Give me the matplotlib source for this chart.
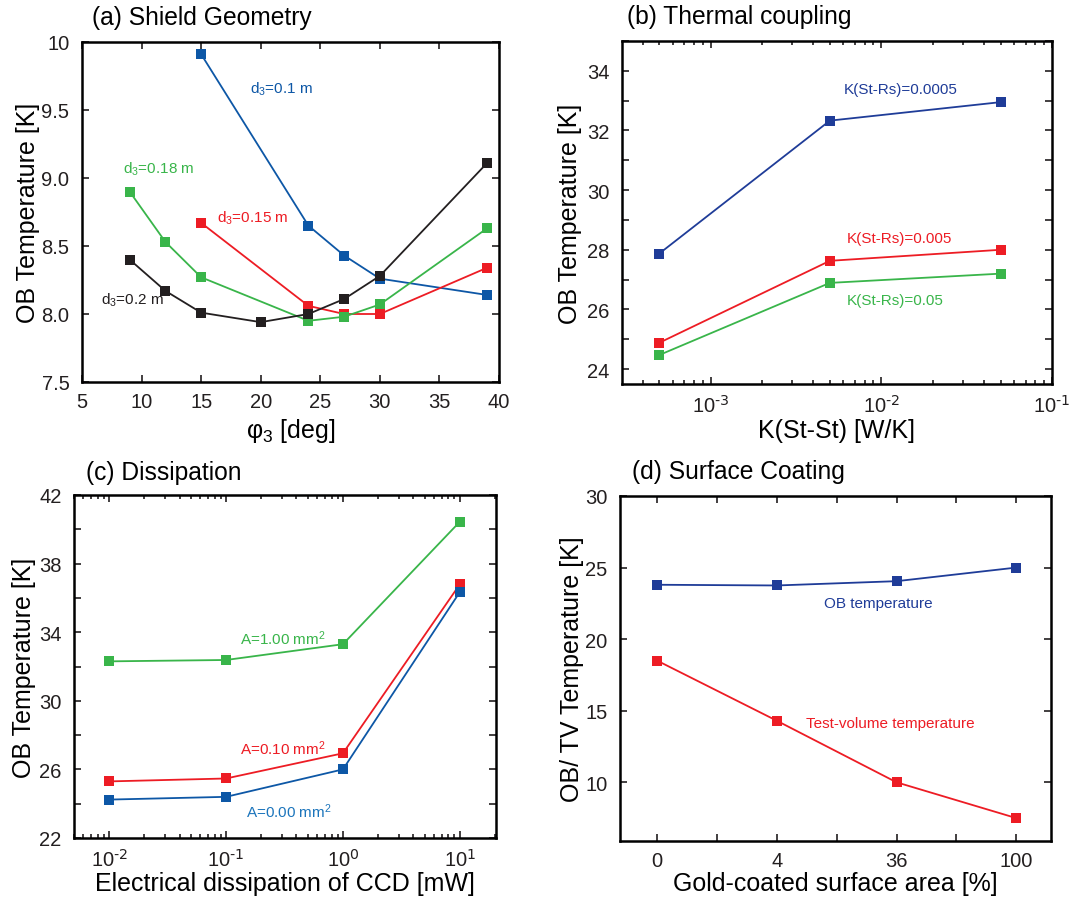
import math
import matplotlib
matplotlib.use("Agg")
import matplotlib.pyplot as plt
from matplotlib.ticker import MultipleLocator, FixedLocator, FixedFormatter, FuncFormatter

plt.rcParams['font.family'] = ['Liberation Sans', 'DejaVu Sans']
plt.rcParams['mathtext.default'] = 'regular'
plt.rcParams['axes.unicode_minus'] = False

# ---- data ----
# (a) shield geometry
phi_d01 = [15, 24, 27, 30, 39]
T_d01 = [9.91, 8.65, 8.43, 8.26, 8.14]
phi_d015 = [15, 24, 27, 30, 39]
T_d015 = [8.67, 8.06, 8.00, 8.00, 8.34]
phi_d018 = [9, 12, 15, 24, 27, 30, 39]
T_d018 = [8.90, 8.53, 8.27, 7.95, 7.98, 8.07, 8.63]
phi_d02 = [9, 12, 15, 20, 24, 27, 30, 39]
T_d02 = [8.40, 8.17, 8.01, 7.94, 8.00, 8.11, 8.28, 9.11]

# (b) thermal coupling
K_stst = [5e-4, 5e-3, 5e-2]
T_rs0005 = [27.87, 32.33, 32.95]
T_rs005 = [24.88, 27.63, 28.00]
T_rs05 = [24.47, 26.89, 27.20]

# (c) dissipation
P_ccd = [0.01, 0.1, 1, 10]
T_a100 = [32.30, 32.38, 33.30, 40.44]
T_a010 = [25.30, 25.47, 26.94, 36.79]
T_a000 = [24.24, 24.40, 26.00, 36.34]

# (d) surface coating
coat_labels = ['0', '4', '36', '100']
T_ob = [23.80, 23.75, 24.05, 25.00]
T_tv = [18.50, 14.30, 10.00, 7.50]

blue = '#0d57a6'
navy = '#1f3c98'
red = '#ed1c24'
green = '#39b54a'
black = '#231f20'
lblue = '#1c75bc'

W, H = 1069, 903
LABEL_FS = 18
TITLE_FS = 17.7


def px(x, y):
    return x / W, 1 - y / H


def box(l, t, r, b):
    return [l / W, 1 - b / H, (r - l) / W, (b - t) / H]


def decade(v, pos):
    # 10^n with a plain hyphen, like the original figure
    return '10$^{\\text{%d}}$' % int(round(math.log10(v)))


def style(ax):
    for s in ax.spines.values():
        s.set_linewidth(1.8)
    ax.tick_params(which='both', direction='in', top=True, right=True,
                   width=1.2, labelsize=14.5, colors='#231f20')
    ax.tick_params(which='major', length=5)
    ax.tick_params(which='minor', length=3)
    ax.tick_params(axis='y', pad=9)
    ax.tick_params(axis='x', pad=7)


def line(ax, x, y, c):
    ax.plot(x, y, '-s', color=c, lw=1.3, ms=6.5, mew=0)


fig = plt.figure(figsize=(W / 100, H / 100), dpi=100)

# ---- (a) ----
ax = fig.add_axes(box(82, 43, 499, 383))
line(ax, phi_d01, T_d01, blue)
line(ax, phi_d015, T_d015, red)
line(ax, phi_d018, T_d018, green)
line(ax, phi_d02, T_d02, black)
ax.set_xlim(5, 40)
ax.set_ylim(7.5, 10)
ax.xaxis.set_major_locator(MultipleLocator(5))
ax.yaxis.set_major_locator(FixedLocator([7.5, 8.0, 8.5, 9.0, 9.5, 10]))
ax.yaxis.set_major_formatter(FixedFormatter(['7.5', '8.0', '8.5', '9.0', '9.5', '10']))
style(ax)
ax.set_xlabel('φ$_3$ [deg]', fontsize=LABEL_FS, labelpad=4)
ax.set_ylabel('OB Temperature [K]', fontsize=LABEL_FS, labelpad=1)
ax.text(19.1, 9.66, 'd$_3$=0.1 m', color=blue, fontsize=11, va='center')
ax.text(8.4, 9.07, 'd$_3$=0.18 m', color=green, fontsize=11, va='center')
ax.text(16.3, 8.71, 'd$_3$=0.15 m', color=red, fontsize=11, va='center')
ax.text(6.6, 8.11, 'd$_3$=0.2 m', color=black, fontsize=11, va='center')
fig.text(*px(92, 18), '(a) Shield Geometry', fontsize=TITLE_FS, va='center')

# ---- (b) ----
ax = fig.add_axes(box(622, 42, 1052, 385))
line(ax, K_stst, T_rs0005, navy)
line(ax, K_stst, T_rs005, red)
line(ax, K_stst, T_rs05, green)
ax.set_xscale('log')
ax.set_xlim(3.03e-4, 1e-1)
ax.set_ylim(23.5, 35)
ax.xaxis.set_major_formatter(FuncFormatter(decade))
ax.yaxis.set_major_locator(MultipleLocator(2))
ax.yaxis.set_minor_locator(MultipleLocator(1))
style(ax)
ax.tick_params(axis='y', which='minor', length=5)
ax.set_xlabel('K(St-St) [W/K]', fontsize=LABEL_FS, labelpad=2)
ax.set_ylabel('OB Temperature [K]', fontsize=LABEL_FS, labelpad=3.5)
ax.text(6.0e-3, 33.4, 'K(St-Rs)=0.0005', color=navy, fontsize=11, va='center')
ax.text(6.3e-3, 28.38, 'K(St-Rs)=0.005', color=red, fontsize=11, va='center')
ax.text(6.3e-3, 26.32, 'K(St-Rs)=0.05', color=green, fontsize=11, va='center')
fig.text(*px(627, 17), '(b) Thermal coupling', fontsize=TITLE_FS, va='center')

# ---- (c) ----
ax = fig.add_axes(box(74, 496, 496, 839))
line(ax, P_ccd, T_a100, green)
line(ax, P_ccd, T_a010, red)
line(ax, P_ccd, T_a000, blue)
ax.set_xscale('log')
ax.set_xlim(5e-3, 20.4)
ax.set_ylim(22, 42)
ax.xaxis.set_major_formatter(FuncFormatter(decade))
ax.yaxis.set_major_locator(MultipleLocator(4, offset=2))
ax.yaxis.set_minor_locator(MultipleLocator(2))
style(ax)
ax.tick_params(axis='y', which='minor', length=5)
ax.set_xlabel('Electrical dissipation of CCD [mW]', fontsize=LABEL_FS, labelpad=1)
ax.set_ylabel('OB Temperature [K]', fontsize=LABEL_FS, labelpad=2.5)
ax.text(0.132, 33.7, 'A=1.00 mm$^2$', color=green, fontsize=11, va='center')
ax.text(0.132, 27.27, 'A=0.10 mm$^2$', color=red, fontsize=11, va='center')
ax.text(0.148, 23.62, 'A=0.00 mm$^2$', color=lblue, fontsize=11, va='center')
fig.text(*px(86, 473), '(c) Dissipation', fontsize=TITLE_FS, va='center')

# ---- (d) ----
ax = fig.add_axes(box(620, 497, 1051, 842))
xpos = list(range(len(coat_labels)))
line(ax, xpos, T_ob, navy)
line(ax, xpos, T_tv, red)
ax.set_xlim(-0.31, 3.29)
ax.set_ylim(5.9, 30)
ax.set_xticks(xpos)
ax.set_xticklabels(coat_labels)
ax.xaxis.set_minor_locator(FixedLocator([0.5, 1.5, 2.5]))
ax.yaxis.set_major_locator(MultipleLocator(5))
style(ax)
ax.tick_params(axis='x', which='minor', length=5)
ax.set_xlabel('Gold-coated surface area [%]', fontsize=LABEL_FS, labelpad=1)
ax.set_ylabel('OB/ TV Temperature [K]', fontsize=LABEL_FS, labelpad=1)
ax.text(1.39, 22.5, 'OB temperature', color=navy, fontsize=11, va='center')
ax.text(1.24, 14.16, 'Test-volume temperature', color=red, fontsize=11, va='center')
fig.text(*px(632, 472), '(d) Surface Coating', fontsize=TITLE_FS, va='center')

fig.savefig('out.png', dpi=100)
